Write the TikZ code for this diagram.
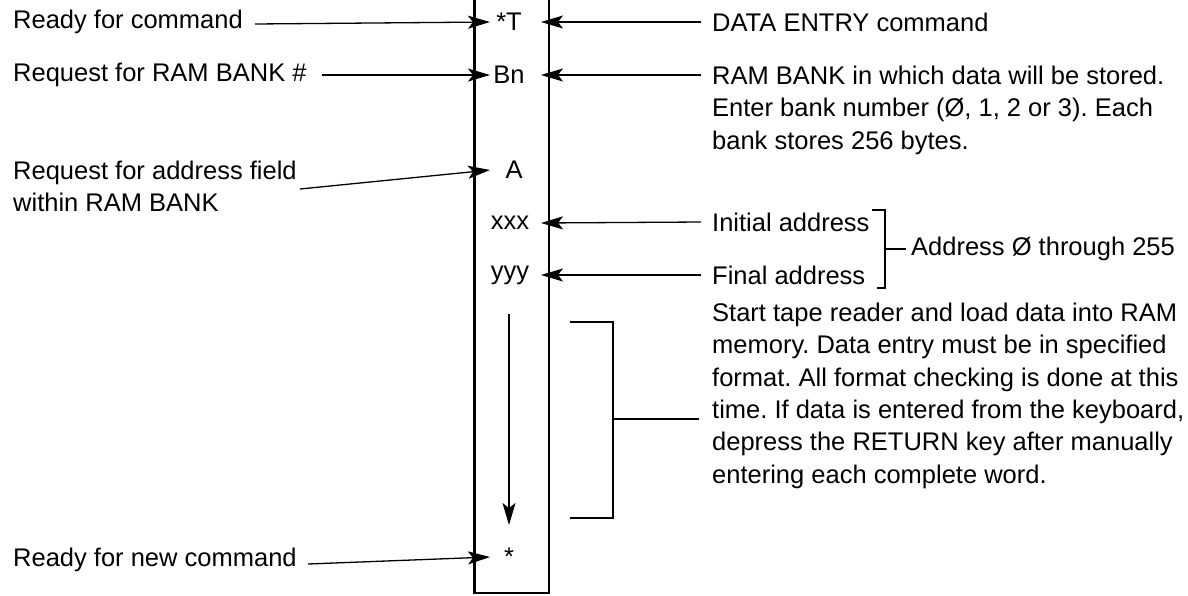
\documentclass[tikz,border=0pt]{standalone}
\usepackage{fontspec}
\setmainfont{Liberation Sans}
\usetikzlibrary{arrows.meta}
\frenchspacing
\begin{document}
\begin{tikzpicture}[x=1pt,y=-1pt,
  txt/.style={font=\fontsize{25.5}{32.3}\selectfont, inner sep=0pt, anchor=west},
  para/.style={font=\fontsize{25.5}{32.3}\selectfont, inner sep=0pt, anchor=north west, align=left},
  sym/.style={font=\fontsize{25.5}{30}\selectfont, inner sep=0pt},
  arr/.style={line width=1.3pt, -{Stealth[length=22pt,width=13pt,inset=5pt]}},
  ln/.style={line width=1.3pt},
  boxln/.style={line width=2.3pt}]
\useasboundingbox (0,0) rectangle (1188,595);
% column box (open at top)
\draw[boxln] (474.5,-5) -- (474.5,593) -- (549,593) -- (549,-5);
% tip columns
\coordinate (tl) at (490,0);
\coordinate (tr) at (541,0);
% left labels
\node[txt] (l1) at (13,22) {Ready for command};
\node[txt] (l2) at (13,75) {Request for RAM BANK \#};
\node[para] (l3) at (13,161) {Request for address field\\within RAM BANK};
\node[txt] (l4) at (13,560) {Ready for new command};
% column symbols
\node[sym] (sT) at (509,22) {*T};
\node[sym] (sB) at (509,75) {Bn};
\node[sym] (sA) at (514,170) {A};
\node[sym] (sX) at (510,223) {xxx};
\node[sym] (sY) at (510,275) {yyy};
\node[sym] (sS) at (509,557) {*};
% left arrows
\coordinate (a1) at (255,24);
\coordinate (a2) at (322,75);
\coordinate (a3) at (300,189);
\coordinate (a4) at (308,564);
\draw[arr] (a1) -- (sT -| tl);
\draw[arr] (a2) -- (sB -| tl);
\draw[arr] (a3) -- (sA -| tl);
\draw[arr] (a4) -- (sS -| tl);
% right texts
\node[txt] (d1) at (712,22) {DATA ENTRY command};
\node[para] (d2) at (712,66) {RAM BANK in which data will be stored.\\Enter bank number (Ø, 1, 2 or 3). Each\\bank stores 256 bytes.};
\node[txt] (ia) at (712,222) {Initial address};
\node[txt] (fa) at (712,275) {Final address};
\node[txt] (ad) at (911,249) {Address Ø through 255};
\node[para] (st) at (712,303) {Start tape reader and load data into RAM\\memory. Data entry must be in specified\\format. All format checking is done at this\\time. If data is entered from the keyboard,\\depress the RETURN key after manually\\entering each complete word.};
% right arrows
\draw[arr] ([xshift=-11pt]d1.west) -- (sT -| tr);
\draw[arr] ([shift={(-11,9)}]d2.north west) -- (sB -| tr);
\draw[arr] ([xshift=-11pt]ia.west) -- (sX -| tr);
\draw[arr] ([xshift=-11pt]fa.west) -- (sY -| tr);
% address bracket
\draw[ln] ([xshift=2pt]ia.east |- 0,210) -- (885,210) -- (885,288) -- ([xshift=12pt]fa.east |- 0,288);
\draw[ln] (885,249) -- ([xshift=-5pt]ad.west);
% down arrow and big bracket
\draw[arr] (509,314) -- (509,525);
\draw[ln] (570,322) -- (613,322) -- (613,518) -- (570,518);
\draw[ln] (613,419) -- (699,419);
\end{tikzpicture}
\end{document}
